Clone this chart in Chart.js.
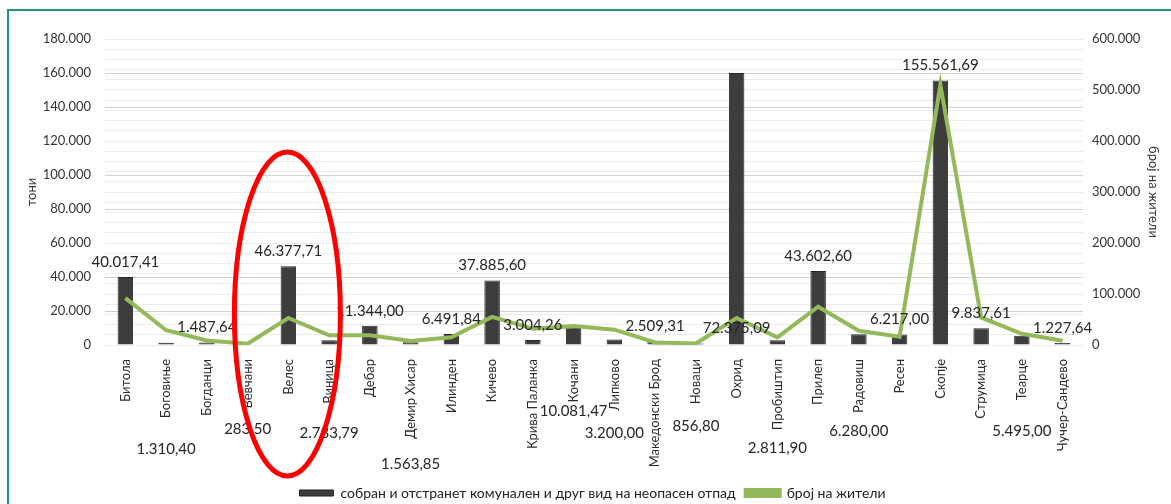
<!DOCTYPE html>
<html>
<head>
<meta charset="utf-8">
<script src="https://cdn.jsdelivr.net/npm/chart.js@4"></script>
<style>
  body { margin: 0; background: #fff; overflow: hidden; }
  #frame { position: absolute; left: 7px; top: 9px; width: 1200px; height: 520px;
           border-top: 2px solid #2a8f89; border-left: 2px solid #2a8f89; }
  #wrap { position: absolute; left: 0; top: 0; width: 1171px; height: 504px; }
</style>
</head>
<body>
<div id="frame"></div>
<div id="wrap"><canvas id="chart" width="1171" height="504"></canvas></div>
<script>
// општини
const opstini = [
  "Битола", "Боговиње", "Богданци", "Вевчани", "Велес", "Виница", "Дебар",
  "Демир Хисар", "Илинден", "Кичево", "Крива Паланка", "Кочани", "Липково",
  "Македонски Брод", "Новаци", "Охрид", "Пробиштип", "Прилеп", "Радовиш",
  "Ресен", "Скопје", "Струмица", "Теарце", "Чучер-Сандево"
];

// собран отпад (тони) - висина на столбовите
const otpad = [
  40017.41, 1310.40, 1487.64, 283.50, 46377.71, 2783.79, 11344.00,
  1563.85, 6491.84, 37885.60, 3004.26, 10081.47, 3200.00,
  2509.31, 856.80, 160000, 2811.90, 43602.60, 6280.00,
  6217.00, 155561.69, 9837.61, 5495.00, 1227.64
];

// натписи над столбовите, како што се на сликата
const otpadNatpisi = [
  "40.017,41", "1.310,40", "1.487,64", "283,50", "46.377,71", "2.783,79", "11.344,00",
  "1.563,85", "6.491,84", "37.885,60", "3.004,26", "10.081,47", "3.200,00",
  "2.509,31", "856,80", "72.375,09", "2.811,90", "43.602,60", "6.280,00",
  "6.217,00", "155.561,69", "9.837,61", "5.495,00", "1.227,64"
];

// број на жители
const ziteli = [
  92000, 29000, 9000, 2500, 53000, 19000, 19000,
  8000, 15000, 55000, 32000, 37000, 30000,
  5000, 3000, 53000, 15000, 75000, 28000,
  16000, 510000, 54000, 22000, 8500
];

const FONT = "Lato, 'Open Sans', sans-serif";
const fmt = (v) => v.toLocaleString("de-DE");

// каде стои натписот: "top" = над столбот, број = поместување од нулата (px)
const natpisPozicija = [
  "top", 104, "top", 84, "top", 88, "top", 119, "top", "top", "top", 66, 88,
  "top", 81, -17, 103, "top", 86, "top", "top", "top", 86, "top"
];

// натписи на столбовите
const natpisiPlugin = {
  id: "natpisi",
  afterDatasetsDraw(chart) {
    const ctx = chart.ctx;
    const meta = chart.getDatasetMeta(0);
    const y0 = chart.scales.y.getPixelForValue(0);
    ctx.save();
    ctx.font = "15px " + FONT;
    ctx.fillStyle = "#262626";
    ctx.textAlign = "center";
    ctx.textBaseline = "middle";
    meta.data.forEach((bar, i) => {
      const p = natpisPozicija[i];
      const y = p === "top" ? bar.y - 15 : y0 + p;
      ctx.fillText(otpadNatpisi[i], bar.x, y);
    });
    ctx.restore();
  },
};

// црвената елипса околу Велес
const elipsaPlugin = {
  id: "elipsa",
  afterDraw(chart) {
    const ctx = chart.ctx;
    const x = chart.scales.x.getPixelForValue(4);
    const y0 = chart.scales.y.getPixelForValue(0);
    ctx.save();
    ctx.strokeStyle = "#ff0000";
    ctx.lineWidth = 5;
    ctx.beginPath();
    ctx.ellipse(x - 1, y0 - 31, 53, 162, 0, 0, Math.PI * 2);
    ctx.stroke();
    ctx.restore();
  },
};

new Chart(document.getElementById("chart"), {
  data: {
    labels: opstini,
    datasets: [
      {
        type: "bar",
        label: "собран и отстранет комунален и друг вид на неопасен отпад",
        data: otpad,
        yAxisID: "y",
        backgroundColor: "#3d3d3d",
        borderColor: "#252525",
        borderWidth: 1,
        categoryPercentage: 1,
        barPercentage: 0.38,
        order: 1,
      },
      {
        type: "line",
        label: "број на жители",
        data: ziteli,
        yAxisID: "y2",
        borderColor: "#93b95a",
        backgroundColor: "#93b95a",
        borderWidth: 4,
        pointRadius: 0,
        tension: 0,
        order: 0,
      },
    ],
  },
  options: {
    responsive: false,
    animation: false,
    layout: { padding: { left: 20, right: 6, top: 39, bottom: -6 } },
    plugins: {
      tooltip: { enabled: false },
      legend: {
        position: "bottom",
        labels: {
          font: { family: FONT, size: 14 },
          color: "#222",
          boxWidth: 34,
          boxHeight: 6,
          padding: 10,
          sort: (a, b) => a.datasetIndex - b.datasetIndex,
        },
      },
    },
    scales: {
      x: {
        grid: { display: false },
        border: { display: false },
        ticks: {
          font: { family: FONT, size: 13 },
          color: "#2a2a2a",
          maxRotation: 90,
          minRotation: 90,
          autoSkip: false,
          padding: 6,
        },
        afterFit: (s) => { s.height = 131; },
      },
      y: {
        position: "left",
        min: 0,
        max: 180000,
        ticks: {
          stepSize: 20000,
          font: { family: FONT, size: 13 },
          color: "#333",
          padding: 14,
          callback: (v) => fmt(v),
        },
        grid: { color: "#d2d2d2", drawTicks: false },
        border: { display: false },
        title: { display: true, text: "тони", font: { family: FONT, size: 13 }, color: "#333" },
        afterFit: (s) => { s.width = 85; },
      },
      y2: {
        position: "right",
        min: 0,
        max: 600000,
        ticks: {
          stepSize: 20000,
          autoSkip: false,
          font: { family: FONT, size: 13 },
          color: "#333",
          padding: 9,
          callback: (v) => (v % 100000 === 0 ? fmt(v) : ""),
        },
        grid: { color: "#ececec", drawTicks: false },
        border: { display: false },
        title: { display: true, text: "број на жители", font: { family: FONT, size: 13 }, color: "#333" },
        afterFit: (s) => { s.width = 82; },
      },
    },
  },
  plugins: [natpisiPlugin, elipsaPlugin],
});
</script>
</body>
</html>
